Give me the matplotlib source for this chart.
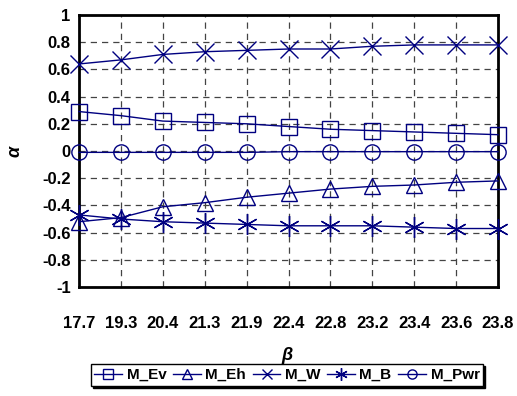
import matplotlib
matplotlib.use("Agg")
import matplotlib.pyplot as plt
from matplotlib.lines import Line2D

categories = ["17.7", "19.3", "20.4", "21.3", "21.9", "22.4", "22.8", "23.2", "23.4", "23.6", "23.8"]
m_ev = [0.29, 0.26, 0.22, 0.21, 0.20, 0.18, 0.16, 0.15, 0.14, 0.13, 0.12]
m_eh = [-0.52, -0.49, -0.41, -0.38, -0.34, -0.31, -0.28, -0.26, -0.25, -0.23, -0.22]
m_w = [0.64, 0.67, 0.71, 0.73, 0.74, 0.75, 0.75, 0.77, 0.78, 0.78, 0.78]
m_b = [-0.47, -0.50, -0.52, -0.53, -0.54, -0.55, -0.55, -0.55, -0.56, -0.57, -0.57]
m_pwr = [-0.01, -0.01, -0.01, -0.01, -0.01, -0.005, -0.005, -0.005, -0.005, -0.005, -0.005]
yticks = [-1, -0.8, -0.6, -0.4, -0.2, 0, 0.2, 0.4, 0.6, 0.8, 1]
ytick_labels = ["-1", "-0.8", "-0.6", "-0.4", "-0.2", "0", "0.2", "0.4", "0.6", "0.8", "1"]

plt.rcParams['font.family'] = ['Liberation Sans', 'DejaVu Sans']
plt.rcParams['font.weight'] = 'bold'

color = '#000080'
fig = plt.figure(figsize=(5.17, 3.96), dpi=100)
ax = fig.add_axes([79/517, 1 - 287/396, (498-79)/517, (287-15)/396])

x = list(range(len(categories)))
series = [
    ("M_Ev", m_ev, 's', 11),
    ("M_Eh", m_eh, '^', 12),
    ("M_W", m_w, 'x', 13),
    ("M_B", m_b, (6, 2, 0), 15),
    ("M_Pwr", m_pwr, 'o', 11),
]
handles = []
for name, vals, mk, ms in series:
    ax.plot(x, vals, color=color, lw=1, marker=mk, markersize=ms, markerfacecolor='none',
            markeredgecolor=color, markeredgewidth=1, clip_on=False, zorder=3)
    handles.append(Line2D([0], [0], color=color, lw=1, marker=mk, markersize=ms*0.6,
                          markerfacecolor='none', markeredgecolor=color, markeredgewidth=1, label=name))

ax.set_xlim(0, len(categories) - 1)
ax.set_ylim(-1, 1)
ax.set_xticks(x)
ax.set_xticklabels(categories, fontsize=12, fontweight='bold')
ax.set_yticks(yticks)
ax.set_yticklabels(ytick_labels, fontsize=12, fontweight='bold')
ax.tick_params(axis='x', length=0, pad=21)
ax.tick_params(axis='y', length=0, pad=6)
ax.grid(True, color='#444444', linestyle=(0, (5, 4)), linewidth=0.9)
for s in ax.spines.values():
    s.set_linewidth(2)
    s.set_color('black')

ax.set_ylabel("α", fontsize=13, fontweight='bold', style='italic')
ax.yaxis.set_label_coords(-56/419, 0.5)
fig.text(287/517, 1 - 355/396, "β", fontsize=13, fontweight='bold', style='italic', ha='center', va='center')

leg = fig.legend(handles=handles, loc='center', bbox_to_anchor=(287/517, 1 - 375/396), ncol=5,
                 frameon=True, fancybox=False, handlelength=1.8, handletextpad=0.3,
                 columnspacing=0.45, borderpad=0.25, borderaxespad=0,
                 prop={'weight': 'bold', 'size': 11},
                 shadow={'color': 'black', 'alpha': 1, 'ox': 1.5, 'oy': -1.5})
leg.get_frame().set_edgecolor('black')
leg.get_frame().set_linewidth(1)
leg.get_frame().set_facecolor('white')

fig.savefig("out.png", dpi=100)
